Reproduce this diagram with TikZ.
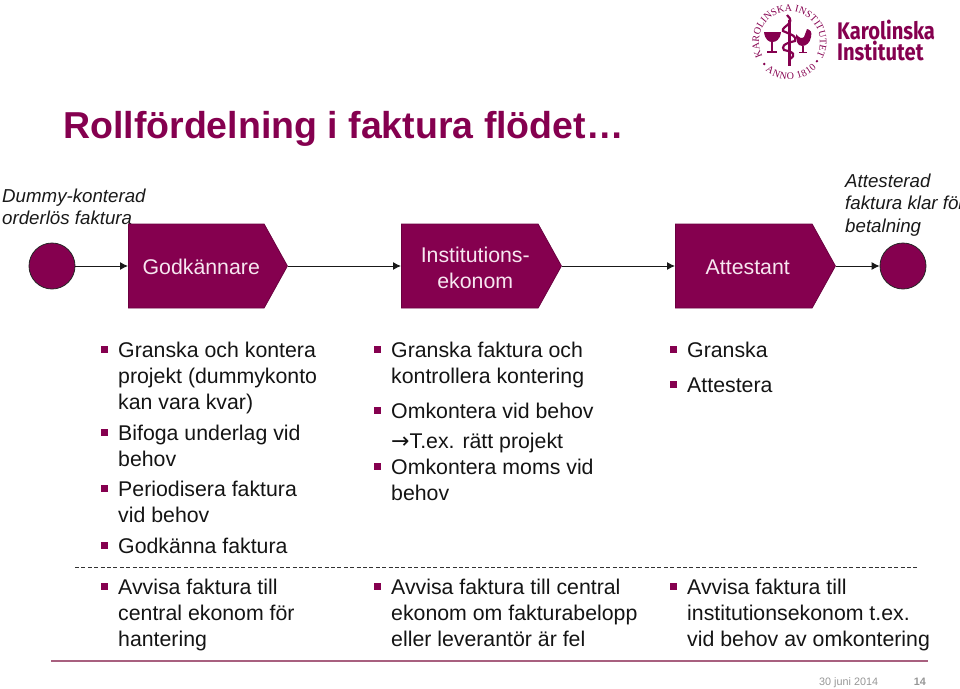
\documentclass[tikz,border=0pt]{standalone}
\usepackage{fontspec}
\setmainfont{Liberation Sans}
\newfontfamily\logofont{Fira Sans}
\newfontfamily\sealfont{Liberation Serif}
\newfontfamily\symfont{DejaVu Sans}
\usetikzlibrary{shapes.symbols,arrows.meta,decorations.text,calc}
\definecolor{ki}{HTML}{85004F}
\definecolor{kirule}{HTML}{A8607F}
\definecolor{kitext}{HTML}{F7E6F0}
\definecolor{kigray}{HTML}{969696}
\tikzset{
  role/.style={signal,signal to=east,signal pointer angle=122,draw=ki!80!black,fill=ki,line width=.8pt,
    minimum height=84pt,inner sep=0pt,text=kitext,font=\fontsize{21.3}{26}\selectfont,anchor=west},
  event/.style={circle,draw=black!85,fill=ki,line width=.8pt,minimum size=46pt,inner sep=0pt},
  flow/.style={line width=1pt,draw=black!90,-{Latex[length=8pt,width=8pt]}},
  item/.style={anchor=base west,inner sep=0pt,font=\fontsize{21.3}{26}\selectfont,text=black!92},
  bull/.style={fill=ki,minimum size=7pt,inner sep=0pt,anchor=center},
  note/.style={anchor=base west,inner sep=0pt,font=\fontsize{18.7}{22.4}\selectfont\itshape,text=black!90},
  logotext/.style={anchor=base west,inner sep=0pt,text=ki,xscale=.84,font=\logofont\fontsize{24}{24}\selectfont\bfseries},
}
\newcommand{\lns}[1]{\begin{tabular}[t]{@{}l@{}}#1\end{tabular}}
\newcommand{\bitem}[4]{%
  \node[bull] (#1b) at (#2-13.5,#3-7.5) {};
  \node[item] (#1) at (#2,#3) {\lns{#4}};}
\begin{document}
\begin{tikzpicture}[x=1pt,y=-1pt]
\useasboundingbox (0,0) rectangle (960,688);
% title
\node[anchor=base west,inner sep=0pt,text=ki,font=\fontsize{37.5}{40}\selectfont\bfseries] (title) at (63,138) {Rollfördelning i faktura flödet…};
% logo
\begin{scope}[shift={(789.5,42)},y=1pt]
 \path[decorate,decoration={text along path,text align={fit to path},text={|\sealfont\fontsize{10}{10}\selectfont\color{ki}|KAROLINSKA INSTITUTET}}]
   (208:30.5) arc[start angle=208,end angle=-28,radius=30.5];
 \path[decorate,decoration={text along path,text align={fit to path},text={|\sealfont\fontsize{10}{10}\selectfont\color{ki}|ANNO 1810}}]
   (230:37.5) arc[start angle=230,end angle=316,radius=37.5];
 \fill[ki] (221:33.5) circle (1.3) (325:33.5) circle (1.3);
\end{scope}
% staff and serpent
\draw[ki,line width=3pt] (789,20) -- (789,66);
\draw[ki,line width=2.2pt] (787,15) .. controls (797,24) and (781,26) .. (783,31) .. controls (792,35) and (797,36) .. (795,41) .. controls (782,44) and (782,47) .. (784,50) .. controls (794,52) and (796,55) .. (790,59);
% cup
\fill[ki] (764,32) -- (781,32) .. controls (780,40) and (776,42) .. (772,42) .. controls (769,42) and (765,40) .. (764,32) -- cycle;
\draw[ki,line width=1.6pt] (772,42) -- (772,51) (767,52) -- (777,52);
% rooster
\fill[ki] (807,29) .. controls (811,30) and (812,32) .. (811,37) .. controls (810,43) and (806,46) .. (802,46) .. controls (797,46) and (796,40) .. (796,34) .. controls (799,38) and (802,39) .. (804,37) -- cycle;
\draw[ki,line width=1.4pt] (803,46) -- (803,52) (799,52.5) -- (807,52.5);
\node[logotext] (ka) at (837,39) {Karolinska};
\node[logotext] (in) at (837,60.5) {Institutet};
% notes
\node[note] (n1) at (2,202) {\lns{Dummy-konterad\\orderlös faktura}};
\node[note] (n2) at (845,187.5) {\lns{Attesterad\\faktura klar för\\betalning}};
% flow
\node[event] (start) at (52,266) {};
\node[role,minimum width=159pt] (p1) at (128,266) {\hspace*{10pt}\raisebox{-8pt}[0pt][0pt]{Godkännare}};
\node[role,minimum width=160pt] (p2) at (401,266) {\hspace*{11pt}\raisebox{4pt}[0pt][0pt]{\begin{tabular}[t]{@{}c@{}}Institutions-\\ekonom\end{tabular}}};
\node[role,minimum width=160pt] (p3) at (675,266) {\hspace*{8pt}\raisebox{-8pt}[0pt][0pt]{Attestant}};
\node[event] (end) at (903,266) {};
\draw[flow] (start) -- (p1.west);
\draw[flow] (p1.east) -- (p2.west);
\draw[flow] (p2.east) -- (p3.west);
\draw[flow] (p3.east) -- (end);
% col 1
\bitem{a1}{118}{357}{Granska och kontera\\projekt (dummykonto\\kan vara kvar)}
\bitem{a2}{118}{440}{Bifoga underlag vid\\behov}
\bitem{a3}{118}{496}{Periodisera faktura\\vid behov}
\bitem{a4}{118}{553}{Godkänna faktura}
% col 2
\bitem{b1}{391}{357}{Granska faktura och\\kontrollera kontering}
\bitem{b2}{391}{418}{Omkontera vid behov}
\node[item] (b2a) at (391,448) {{\symfont\fontsize{22}{26}\selectfont→}T.ex. rätt projekt};
\bitem{b3}{391}{474}{Omkontera moms vid\\behov}
% col 3
\bitem{c1}{687}{357}{Granska}
\bitem{c2}{687}{392}{Attestera}
% separator
\coordinate (dl) at (75,567); \coordinate (dr) at (917,567);
\draw[black!80,line width=.7pt,dash pattern=on 4pt off 2.4pt] (dl) -- (dr);
% lower
\bitem{d1}{118}{594}{Avvisa faktura till\\central ekonom för\\hantering}
\bitem{d2}{391}{594}{Avvisa faktura till central\\ekonom om fakturabelopp\\eller leverantör är fel}
\bitem{d3}{687}{594}{Avvisa faktura till\\institutionsekonom t.ex.\\vid behov av omkontering}
% footer
\coordinate (rl) at (51,661); \coordinate (rr) at (928,661);
\draw[kirule,line width=1.5pt] (rl) -- (rr);
\node[anchor=base west,inner sep=0pt,text=kigray,font=\fontsize{10.8}{12}\selectfont] (date) at (819,685) {30 juni 2014};
\node[anchor=base east,inner sep=0pt,text=kigray,font=\fontsize{10.8}{12}\selectfont\bfseries] (page) at (926,685) {14};
\end{tikzpicture}
\end{document}
